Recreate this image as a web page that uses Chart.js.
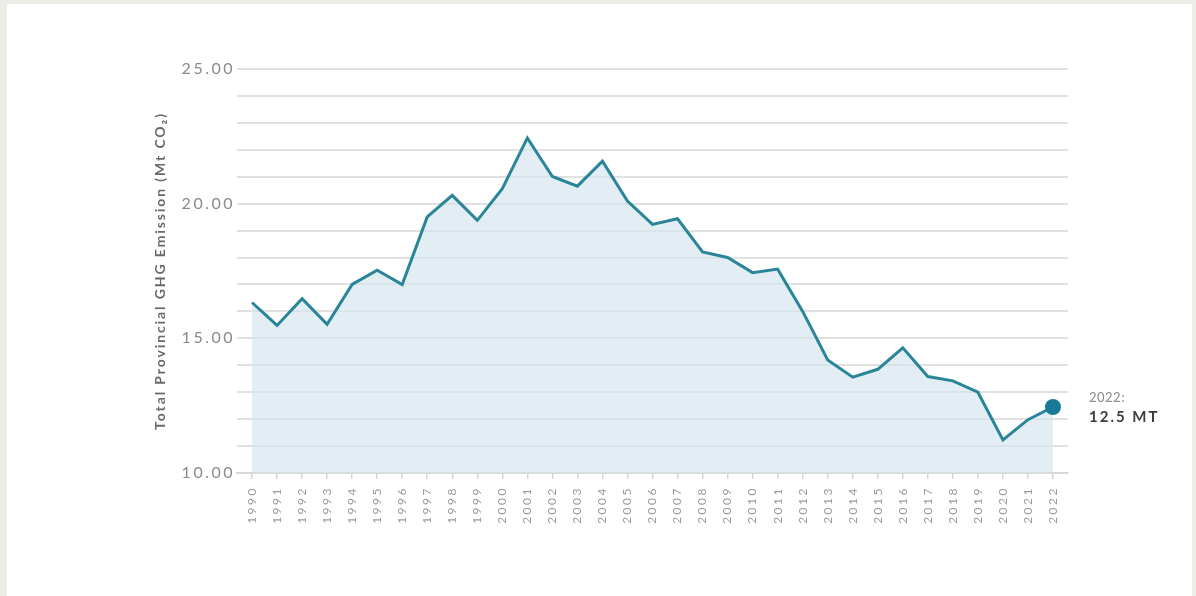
<!DOCTYPE html>
<html>
<head>
<meta charset="utf-8">
<script src="https://cdn.jsdelivr.net/npm/chart.js@4.4.1/dist/chart.umd.min.js"></script>
<style>
  html, body { margin: 0; padding: 0; background: #ecede6; width: 1196px; height: 596px; overflow: hidden; }
  #card { position: absolute; left: 7px; top: 4px; width: 1185px; height: 592px; background: #ffffff; }
  canvas { display: block; }
</style>
</head>
<body>
<div id="card"><canvas id="c" width="1185" height="592"></canvas></div>
<script>
// ---- data ----
const years = [1990,1991,1992,1993,1994,1995,1996,1997,1998,1999,2000,2001,2002,2003,2004,2005,2006,2007,2008,2009,2010,2011,2012,2013,2014,2015,2016,2017,2018,2019,2020,2021,2022];
const emissions = [16.33,15.48,16.47,15.52,17.0,17.53,17.0,19.51,20.31,19.38,20.56,22.44,21.01,20.65,21.58,20.10,19.23,19.44,18.21,18.0,17.44,17.57,16.0,14.2,13.56,13.85,14.65,13.58,13.42,13.0,11.23,11.98,12.45];
const yMin = 10, yMax = 25;
const yLabelStep = 5;
const axisTitle = 'Total Provincial GHG Emission (Mt CO\u2082)';
const annotYear = '2022:';
const annotValue = '12.5 MT';

const lastIdx = years.length - 1;
const points = years.map((y, i) => ({ x: y, y: emissions[i] }));

const FONT = 'Lato, "Open Sans", sans-serif';

function withSpacing(scale, method, spacing) {
  const orig = scale[method];
  if (orig.__wrapped) return;
  const fn = function (...args) {
    const ctx = this.ctx;
    ctx.save();
    ctx.letterSpacing = spacing;
    orig.apply(this, args);
    ctx.restore();
  };
  fn.__wrapped = true;
  scale[method] = fn;
}

const spacingPlugin = {
  id: 'spacing',
  afterLayout(chart) {
    withSpacing(chart.scales.x, 'drawLabels', '2.5px');
    withSpacing(chart.scales.y, 'drawLabels', '2.5px');
    withSpacing(chart.scales.y, 'drawTitle', '1.9px');
  }
};

const annotationPlugin = {
  id: 'annot',
  afterDatasetsDraw(chart) {
    const ctx = chart.ctx;
    const xs = chart.scales.x, ys = chart.scales.y;
    const px = xs.getPixelForValue(years[lastIdx]);
    const py = ys.getPixelForValue(emissions[lastIdx]);
    ctx.save();
    ctx.textAlign = 'left';
    ctx.textBaseline = 'middle';
    ctx.letterSpacing = '0.5px';
    ctx.fillStyle = '#8a8a8a';
    ctx.font = '13px ' + FONT;
    ctx.fillText(annotYear, px + 36, py - 9);
    ctx.letterSpacing = '2px';
    ctx.fillStyle = '#3d3d3d';
    ctx.font = 'bold 15px ' + FONT;
    ctx.fillText(annotValue, px + 36, py + 10);
    ctx.restore();
  }
};

new Chart(document.getElementById('c'), {
  type: 'line',
  data: {
    datasets: [{
      data: points,
      borderColor: '#2a8599',
      borderWidth: 3,
      backgroundColor: 'rgba(210,229,236,0.65)',
      fill: 'start',
      tension: 0,
      pointRadius: ctx => ctx.dataIndex === lastIdx ? 8 : 0,
      pointHoverRadius: ctx => ctx.dataIndex === lastIdx ? 8 : 0,
      pointBackgroundColor: '#177a98',
      pointBorderColor: '#177a98',
      pointBorderWidth: 0
    }]
  },
  options: {
    responsive: false,
    animation: false,
    events: [],
    layout: { padding: { left: 141, top: 65, right: 124, bottom: 0 } },
    plugins: { legend: { display: false }, tooltip: { enabled: false } },
    scales: {
      x: {
        type: 'linear',
        min: years[0] - 0.6,
        max: years[lastIdx] + 0.6,
        afterBuildTicks: s => { s.ticks = years.map(v => ({ value: v })); },
        afterFit: s => { s.height = 123; },
        border: { display: true, color: '#d4d4d4', width: 1.5 },
        grid: { display: true, drawOnChartArea: false, drawTicks: true, tickLength: 6, color: '#d4d4d4', lineWidth: 1.5 },
        ticks: {
          autoSkip: false,
          minRotation: 90,
          maxRotation: 90,
          padding: 7,
          color: '#9a9a9a',
          font: { family: FONT, size: 12 },
          callback: v => String(v)
        }
      },
      y: {
        min: yMin,
        max: yMax,
        afterFit: s => { s.width = 89; },
        border: { display: false },
        grid: { color: '#e1e1e1', lineWidth: 2, drawTicks: false },
        ticks: {
          stepSize: 1,
          padding: 2,
          color: '#8a8a8a',
          font: { family: FONT, size: 16 },
          callback: v => (v % yLabelStep === 0 ? v.toFixed(2) : '')
        },
        title: {
          display: true,
          text: axisTitle,
          color: '#6a6a6a',
          font: { family: FONT, size: 14, weight: 'bold' },
          padding: { top: 4, bottom: 4 }
        }
      }
    }
  },
  plugins: [spacingPlugin, annotationPlugin]
});
</script>
</body>
</html>
